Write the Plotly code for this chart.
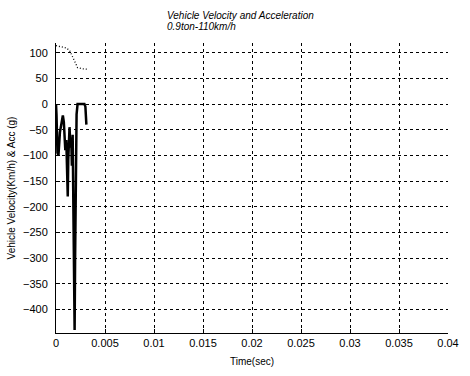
import plotly.graph_objects as go

# Velocity (dotted) - km/h
vel_t = [0.0, 0.0005, 0.0011, 0.0014, 0.0016, 0.0018, 0.0020, 0.0022, 0.0026, 0.0032]
vel_v = [114, 112, 109, 104, 96, 86, 77, 71, 69, 68]

# Acceleration (solid, thick) - g
acc_t = [0.0, 0.00005, 0.00015, 0.00025, 0.0004, 0.0006, 0.0007, 0.0008, 0.00095, 0.00105,
         0.0011, 0.0012, 0.00125, 0.0013, 0.00138, 0.00148, 0.00155, 0.00162, 0.0017, 0.0018,
         0.0019, 0.00195, 0.0020, 0.0021, 0.0022, 0.0025, 0.0028, 0.0029, 0.0030, 0.00302,
         0.00305, 0.0031]
acc_g = [0, -20, -95, -100, -55, -28, -22, -35, -90, -70,
         -100, -180, -110, -60, -45, -85, -65, -120, -60, -250,
         -440, -300, -150, -20, 0, 0, 0, 0, -5, -35,
         -20, -40]

x_ticks = [0, 0.005, 0.01, 0.015, 0.02, 0.025, 0.03, 0.035, 0.04]
x_tick_text = ["0", "0.005", "0.01", "0.015", "0.02", "0.025", "0.03", "0.035", "0.04"]
y_ticks = [-400, -350, -300, -250, -200, -150, -100, -50, 0, 50, 100]

fig = go.Figure()
fig.add_trace(go.Scatter(x=vel_t, y=vel_v, mode="lines",
                         line=dict(color="black", width=1.3, dash="1px,2px"),
                         showlegend=False))
fig.add_trace(go.Scatter(x=acc_t, y=acc_g, mode="lines",
                         line=dict(color="black", width=2.5),
                         showlegend=False))

font = dict(family="Arial, Liberation Sans, sans-serif", size=10, color="black")
tick_font = dict(family="Arial, Liberation Sans, sans-serif", size=11, color="black")

fig.update_layout(
    width=470, height=376,
    margin=dict(l=54, r=11, t=43, b=30),
    paper_bgcolor="white", plot_bgcolor="white",
    font=font,
    xaxis=dict(range=[0, 0.04], tickvals=x_ticks, ticktext=x_tick_text, tickfont=tick_font,
               showgrid=True, gridcolor="black", gridwidth=1, griddash="3px,3px",
               showline=True, linecolor="black", linewidth=1, mirror=False,
               ticks="inside", ticklen=4, tickcolor="black", zeroline=False,
               title=dict(text="Time(sec)", font=font, standoff=9)),
    yaxis=dict(range=[-446, 119], tickvals=y_ticks, tickfont=tick_font,
               showgrid=True, gridcolor="black", gridwidth=1, griddash="3px,3px",
               showline=True, linecolor="black", linewidth=1, mirror=False,
               ticks="inside", ticklen=4, tickcolor="black", zeroline=False,
               ticklabelstandoff=5,
               title=dict(text="Vehicle Velocity(Km/h) & Acc (g)", font=font, standoff=5)),
)

fig.add_annotation(text="<i>Vehicle Velocity and Acceleration</i>", xref="paper", yref="paper",
                   x=(167 - 54) / 405, y=(346 - 14) / 303, xanchor="left", yanchor="middle",
                   showarrow=False, font=font)
fig.add_annotation(text="<i>0.9ton-110km/h</i>", xref="paper", yref="paper",
                   x=(167 - 54) / 405, y=(346 - 25.5) / 303, xanchor="left", yanchor="middle",
                   showarrow=False, font=font)

fig.write_html("out.html")
